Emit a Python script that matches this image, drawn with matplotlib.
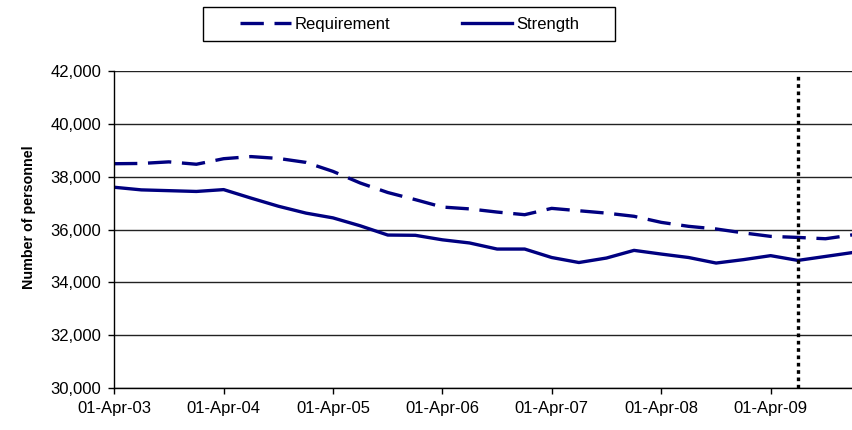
import numpy as np
import matplotlib
matplotlib.use("Agg")
import matplotlib.pyplot as plt
import matplotlib.dates as mdates
import matplotlib.ticker as mticker
from matplotlib.patches import Rectangle
import pandas as pd

# quarterly figures, 1 Apr 2003 to 1 Jan 2010
dates = pd.date_range("2003-04-01", "2010-01-01", freq="QS-JAN")

requirement = [38490, 38500, 38560, 38470, 38680, 38760, 38690, 38540,
               38200, 37760, 37400, 37130, 36850, 36780, 36660, 36560,
               36800, 36710, 36620, 36500, 36270, 36120, 36020, 35870,
               35740, 35700, 35650, 35800]

strength = [37600, 37500, 37470, 37440, 37510, 37190, 36880, 36620,
            36440, 36140, 35790, 35780, 35610, 35490, 35260, 35260,
            34940, 34750, 34920, 35210, 35070, 34940, 34730, 34860,
            35010, 34830, 34980, 35130]

marker_date = pd.Timestamp("2009-07-01")
yticks = np.arange(30000, 42001, 2000)

plt.rcParams['font.family'] = ['Liberation Sans', 'DejaVu Sans']
navy = '#000080'

fig = plt.figure(figsize=(8.53, 4.30), dpi=100)
ax = fig.add_axes([114/853, 42/430, 739/853, 317/430])

ax.plot(dates, requirement, color=navy, lw=2.4, ls=(0, (7, 3.2)), label='Requirement')
ax.plot(dates, strength, color=navy, lw=2.4, label='Strength')
ax.axvline(marker_date, ymin=0, ymax=0.985, color='black', lw=2.4, ls=(0, (1.1, 1.1)))

ax.set_xlim(dates[0], dates[-1])
ax.set_ylim(30000, 42000)
ax.set_yticks(yticks)
ax.yaxis.set_major_formatter(mticker.FuncFormatter(lambda v, p: '{:,.0f}'.format(v)))
ax.xaxis.set_major_locator(mdates.YearLocator(month=4, day=1))
ax.xaxis.set_major_formatter(mdates.DateFormatter('%d-%b-%y'))

ax.grid(axis='y', color='#222222', lw=1)
ax.set_axisbelow(True)
for s in ['top', 'right']:
    ax.spines[s].set_visible(False)
ax.spines['left'].set_linewidth(1)
ax.spines['bottom'].set_linewidth(1)
ax.tick_params(direction='out', length=4, width=1, labelsize=12, pad=5)

# label sits a little above the middle in the original
ax.set_ylabel('Number of personnel', fontsize=10.3, fontweight='bold')
ax.yaxis.set_label_coords(-78/739, 0.54)

# legend: box drawn by hand, entries centred in it
fig.patches.append(Rectangle((203/853, 1 - 41/430), 412/853, 34/430,
                             transform=fig.transFigure, fill=False,
                             edgecolor='black', lw=1))
leg = fig.legend(loc='center', bbox_to_anchor=(409.5/853, 1 - 24/430), ncol=2,
                 fontsize=12, frameon=False, handlelength=3.05,
                 handletextpad=0.2, columnspacing=4.3,
                 borderpad=0, borderaxespad=0)

fig.savefig('out.png', dpi=100)
